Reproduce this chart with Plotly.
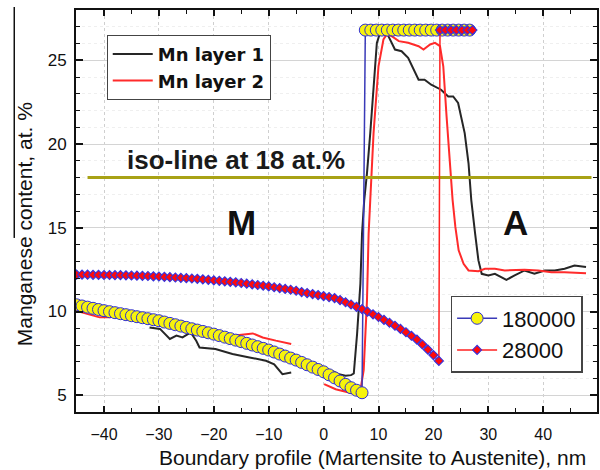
import plotly.graph_objects as go

# ---- measured Mn profiles (nm, at.%) ----
mn1_x = [-31.7, -29.8, -28.0, -26.8, -25.7, -24.2, -23.2, -22.6, -19.7, -16.6, -13.5, -10.5, -9.0, -7.5, -5.9,
         None,
         1.6, 2.8, 4.0, 5.0, 5.5, 6.1, 6.7, 7.0, 7.4, 7.9, 8.5, 9.1, 9.7, 10.3, 11.5, 11.8, 13.0, 14.2, 15.4,
         17.3, 18.4, 19.6, 21.4, 22.7, 23.6, 24.5, 25.7, 26.4, 26.9, 27.6, 28.2, 28.8, 30.0, 31.2, 33.3, 34.8,
         36.6, 38.4, 40.3, 42.1, 43.9, 45.7, 47.8]
mn1_y = [9.05, 8.96, 8.36, 8.56, 8.45, 8.75, 8.25, 7.85, 7.76, 7.46, 7.26, 7.06, 6.85, 6.26, 6.36,
         None,
         6.46, 6.25, 6.16, 6.20, 6.30, 8.66, 11.65, 14.65, 16.65, 18.25, 20.65, 23.65, 26.04, 26.64, 26.64,
         26.44, 25.64, 25.54, 25.14, 23.84, 23.84, 23.54, 23.24, 22.84, 22.84, 22.45, 20.65, 18.85, 16.65,
         14.65, 13.05, 12.25, 12.15, 12.25, 11.89, 12.15, 12.45, 12.25, 12.45, 12.45, 12.55, 12.75, 12.65]

mn2_x = [-45.3, -43.2, -40.8, -38.9, -37.1, -35.0, -32.0, -29.8, -27.0, -24.0, -20.0, -16.6, -12.9, -11.1,
         -8.7, -5.9,
         None,
         0.1, 2.2, 4.6, 5.8, 6.6, 7.3, 7.9, 8.2, 8.5, 9.1, 10.0, 10.9, 11.5, 12.4, 13.7, 15.4, 17.3, 18.2,
         19.4, 20.3, 21.2, 21.8, 22.4, 23.0, 23.5, 24.0, 24.6, 25.5, 26.4, 28.2, 29.4, 31.2, 33.0, 36.6, 39.1,
         41.5, 43.9, 47.8]
mn2_y = [10.06, 9.86, 9.65, 9.65, 9.75, 9.60, 9.35, 9.16, 9.00, 8.85, 8.70, 8.56, 8.69, 8.45, 8.26, 8.06,
         None,
         5.66, 5.36, 5.16, 5.06, 5.10, 6.50, 10.65, 14.65, 16.65, 20.65, 24.64, 26.24, 26.54, 26.44, 26.14,
         26.04, 25.84, 25.64, 25.94, 26.04, 25.84, 24.64, 21.65, 18.65, 16.65, 15.05, 13.65, 12.85, 12.45,
         12.41, 12.55, 12.55, 12.45, 12.49, 12.45, 12.35, 12.35, 12.29]

# ---- simulated profiles ----
sim180k_x = [-45, -44, -43, -42, -41, -40, -39, -38, -37, -36, -35, -34, -33, -32, -31, -30, -29, -28, -27,
             -26, -25, -24, -23, -22, -21, -20, -19, -18, -17, -16, -15, -14, -13, -12, -11, -10, -9, -8,
             -7, -6, -5, -4, -3, -2, -1, 0, 1, 2, 3, 4, 5, 6, 7,
             7.6, 8.6, 9.6, 10.6, 11.6, 12.6, 13.6, 14.6, 15.6, 16.6, 17.6, 18.6, 19.6, 20.6, 21.6, 22.6,
             23.6, 24.6, 25.6, 26.6]
sim180k_y = [10.40, 10.33, 10.26, 10.19, 10.12, 10.05, 9.99, 9.93, 9.87, 9.81, 9.75, 9.69, 9.63, 9.57, 9.51,
             9.45, 9.37, 9.29, 9.21, 9.13, 9.05, 8.97, 8.89, 8.81, 8.73, 8.65, 8.56, 8.47, 8.38, 8.29, 8.20,
             8.10, 8.00, 7.90, 7.80, 7.70, 7.58, 7.46, 7.34, 7.22, 7.10, 6.96, 6.82, 6.68, 6.54, 6.40, 6.22,
             6.04, 5.85, 5.65, 5.45, 5.30, 5.15,
             26.8, 26.8, 26.8, 26.8, 26.8, 26.8, 26.8, 26.8, 26.8, 26.8, 26.8, 26.8, 26.8, 26.8, 26.8, 26.8,
             26.8, 26.8, 26.8, 26.8]

sim28k_x = [-45, -44, -43, -42, -41, -40, -39, -38, -37, -36, -35, -34, -33, -32, -31, -30, -29, -28, -27,
            -26, -25, -24, -23, -22, -21, -20, -19, -18, -17, -16, -15, -14, -13, -12, -11, -10, -9, -8,
            -7, -6, -5, -4, -3, -2, -1, 0, 1, 2, 3, 4, 5, 6, 7, 8, 9, 10, 11, 12, 13, 14, 15, 16, 17, 18,
            19, 20, 21,
            21.2, 22.2, 23.2, 24.2, 25.2, 26.2, 27.1]
sim28k_y = [12.20, 12.20, 12.20, 12.19, 12.19, 12.18, 12.18, 12.17, 12.17, 12.16, 12.15, 12.14, 12.13, 12.12,
            12.10, 12.09, 12.07, 12.05, 12.03, 12.01, 11.99, 11.97, 11.95, 11.92, 11.89, 11.86, 11.83, 11.80,
            11.77, 11.74, 11.70, 11.66, 11.62, 11.58, 11.54, 11.50, 11.45, 11.40, 11.35, 11.30, 11.24, 11.16,
            11.10, 11.04, 10.98, 10.92, 10.86, 10.80, 10.68, 10.55, 10.42, 10.28, 10.14, 9.99, 9.83, 9.67,
            9.50, 9.33, 9.15, 8.96, 8.76, 8.55, 8.32, 8.03, 7.72, 7.40, 7.05,
            26.8, 26.8, 26.8, 26.8, 26.8, 26.8, 26.8]

# iso-concentration reference line
iso_x = [-43.0, 48.8]
iso_y = [18, 18]

x_ticks = [-40, -30, -20, -10, 0, 10, 20, 30, 40]
y_ticks = [5, 10, 15, 20, 25]

SANS = "Liberation Sans, Arial, sans-serif"

fig = go.Figure()

fig.add_trace(go.Scatter(x=mn1_x, y=mn1_y, mode="lines", name="Mn layer 1",
                         line=dict(color="#262626", width=2), legend="legend"))
fig.add_trace(go.Scatter(x=mn2_x, y=mn2_y, mode="lines", name="Mn layer 2",
                         line=dict(color="#ff2b2b", width=2), legend="legend"))
fig.add_trace(go.Scatter(x=iso_x, y=iso_y, mode="lines", showlegend=False,
                         line=dict(color="#a8a215", width=3)))
fig.add_trace(go.Scatter(x=sim180k_x, y=sim180k_y, mode="lines+markers", name="180000",
                         line=dict(color="#3a3ab8", width=1.5),
                         marker=dict(symbol="circle", size=12, color="#f7f30c",
                                     line=dict(color="#2d2dd6", width=1)),
                         legend="legend2"))
fig.add_trace(go.Scatter(x=sim28k_x, y=sim28k_y, mode="lines+markers", name="28000",
                         line=dict(color="#ff2020", width=1.5),
                         marker=dict(symbol="diamond", size=7, color="#ff0a0a",
                                     line=dict(color="#3434e0", width=1.1)),
                         legend="legend2"))

fig.update_xaxes(range=[-45.1, 49.8], tickvals=x_ticks, ticks="inside", ticklen=6, tickwidth=1.5,
                 tickcolor="#111", showline=True, linewidth=2, linecolor="#111", mirror="ticks",
                 showgrid=True, gridcolor="#cfcfcf", gridwidth=1, griddash="dot",
                 zeroline=False, tickfont=dict(family=SANS, size=16, color="#111"),
                 ticklabelstandoff=7,
                 minor=dict(dtick=5, tick0=0, ticks="inside", ticklen=4, tickwidth=1.2,
                            tickcolor="#111", showgrid=False))
fig.update_yaxes(range=[4, 28], tickvals=y_ticks, ticks="inside", ticklen=7, tickwidth=1.5,
                 tickcolor="#111", showline=True, linewidth=2, linecolor="#111", mirror="ticks",
                 showgrid=True, gridcolor="#d4d4d4", gridwidth=1,
                 zeroline=False, tickfont=dict(family=SANS, size=17, color="#111"),
                 ticklabelstandoff=4,
                 minor=dict(dtick=1, tick0=0, ticks="inside", ticklen=4, tickwidth=1.2,
                            tickcolor="#111", showgrid=True, gridcolor="#efefef", griddash="dot"))

fig.update_layout(
    width=600, height=470,
    margin=dict(l=76, r=1, t=10, b=58),
    paper_bgcolor="white", plot_bgcolor="white",
    legend=dict(x=0.059, y=0.938, xanchor="left", yanchor="top",
                bgcolor="white", bordercolor="#444", borderwidth=1,
                font=dict(family="DejaVu Sans", size=18, color="#111", weight="bold"),
                itemwidth=40),
    legend2=dict(x=0.719, y=0.2886, xanchor="left", yanchor="top",
                 bgcolor="white", bordercolor="#444", borderwidth=1.5,
                 font=dict(family=SANS, size=22, color="#111"),
                 itemwidth=40),
    annotations=[
        dict(text="<b>iso-line at 18 at.%</b>", x=-16.0, y=19.05, xref="x", yref="y", showarrow=False,
             font=dict(family=SANS, size=26, color="#1a1a1a")),
        dict(text="<b>M</b>", x=-15.0, y=15.3, xref="x", yref="y", showarrow=False,
             font=dict(family=SANS, size=35, color="#111")),
        dict(text="<b>A</b>", x=35.0, y=15.3, xref="x", yref="y", showarrow=False,
             font=dict(family=SANS, size=35, color="#111")),
        dict(text="Boundary profile (Martensite to Austenite), nm", x=0.5698, y=-0.112,
             xref="paper", yref="paper", xanchor="center", yanchor="middle", showarrow=False,
             font=dict(family=SANS, size=21, color="#111")),
        dict(text="Manganese content, at. %", x=-0.0975, y=0.4677, textangle=-90,
             xref="paper", yref="paper", xanchor="center", yanchor="middle", showarrow=False,
             font=dict(family=SANS, size=21, color="#111")),
    ],
    shapes=[
        dict(type="line", xref="paper", yref="paper", x0=-0.1185, x1=-0.1185, y0=0.433, y1=1.0075,
             line=dict(color="#111", width=1.5)),
    ],
)

fig.write_html("out.html")
